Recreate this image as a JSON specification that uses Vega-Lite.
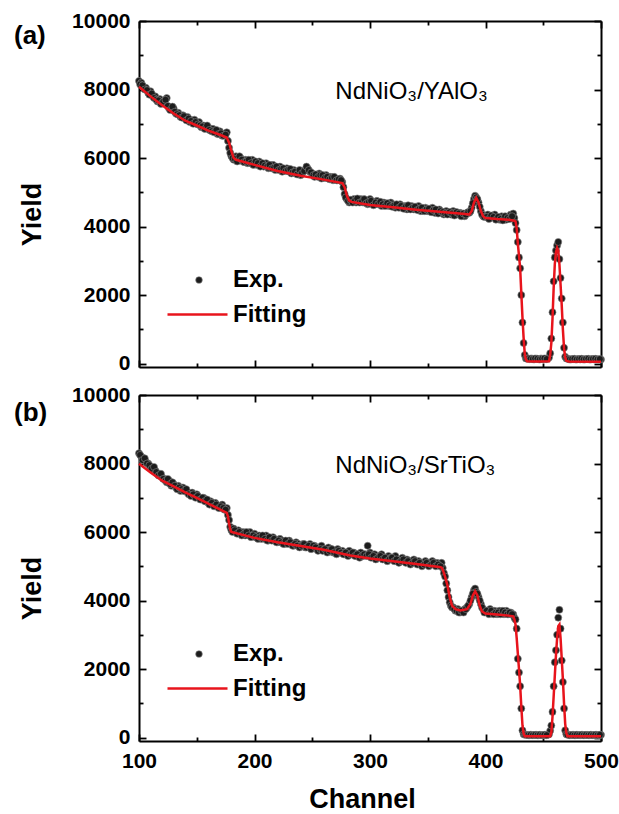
{
  "$schema": "https://vega.github.io/schema/vega-lite/v6.json",
  "padding": {"left": 14, "top": 10, "right": 5, "bottom": 0},
  "background": "white",
  "spacing": 28,
  "bounds": "flush",
  "resolve": {"scale": {"fill": "independent", "stroke": "independent"}, "legend": {"fill": "independent", "stroke": "independent"}},
  "config": {
    "view": {"stroke": null},
    "font": "Liberation Sans",
    "axis": {"domainColor": "black", "domainWidth": 2, "tickColor": "black", "tickWidth": 1.8, "grid": false, "labelFont": "Liberation Sans", "labelFontSize": 21, "labelFontWeight": "bold", "labelColor": "black", "labelFlush": false, "titleFont": "Liberation Sans", "titleFontSize": 27, "titleFontWeight": "bold", "titleColor": "black"},
    "legend": {"orient": "none", "title": null, "labelFont": "Liberation Sans", "labelFontSize": 24, "labelFontWeight": "bold", "labelColor": "black", "padding": 0}
  },
  "datasets": {
    "pa": [{"c":100,"y":8250},{"c":102,"y":8200},{"c":104,"y":8080},{"c":106,"y":8050},{"c":108,"y":7900},{"c":110,"y":7950},{"c":112,"y":7800},{"c":114,"y":7800},{"c":116,"y":7650},{"c":118,"y":7720},{"c":120,"y":7600},{"c":122,"y":7620},{"c":124,"y":7750},{"c":126,"y":7450},{"c":128,"y":7420},{"c":130,"y":7450},{"c":132,"y":7300},{"c":134,"y":7320},{"c":136,"y":7200},{"c":138,"y":7250},{"c":140,"y":7150},{"c":142,"y":7200},{"c":144,"y":7050},{"c":146,"y":7100},{"c":148,"y":7120},{"c":150,"y":7000},{"c":152,"y":7050},{"c":154,"y":6900},{"c":156,"y":6950},{"c":158,"y":6880},{"c":160,"y":6900},{"c":162,"y":6800},{"c":164,"y":6850},{"c":166,"y":6780},{"c":168,"y":6700},{"c":170,"y":6780},{"c":172,"y":6650},{"c":174,"y":6700},{"c":176,"y":6750},{"c":177,"y":6500},{"c":178,"y":6300},{"c":180,"y":6050},{"c":182,"y":5950},{"c":184,"y":6050},{"c":186,"y":5950},{"c":188,"y":6000},{"c":190,"y":5900},{"c":192,"y":5950},{"c":194,"y":5850},{"c":196,"y":5900},{"c":198,"y":5950},{"c":200,"y":5850},{"c":202,"y":5800},{"c":204,"y":5900},{"c":206,"y":5800},{"c":208,"y":5750},{"c":210,"y":5850},{"c":212,"y":5700},{"c":214,"y":5750},{"c":216,"y":5800},{"c":218,"y":5650},{"c":220,"y":5700},{"c":222,"y":5750},{"c":224,"y":5600},{"c":226,"y":5650},{"c":228,"y":5700},{"c":230,"y":5600},{"c":232,"y":5550},{"c":234,"y":5650},{"c":236,"y":5550},{"c":238,"y":5600},{"c":240,"y":5500},{"c":242,"y":5600},{"c":244,"y":5650},{"c":246,"y":5700},{"c":248,"y":5600},{"c":250,"y":5550},{"c":252,"y":5450},{"c":254,"y":5500},{"c":256,"y":5550},{"c":258,"y":5400},{"c":260,"y":5450},{"c":262,"y":5500},{"c":264,"y":5400},{"c":266,"y":5450},{"c":268,"y":5350},{"c":270,"y":5400},{"c":272,"y":5350},{"c":274,"y":5400},{"c":276,"y":5300},{"c":277,"y":5150},{"c":278,"y":4950},{"c":280,"y":4800},{"c":282,"y":4700},{"c":284,"y":4750},{"c":286,"y":4800},{"c":288,"y":4700},{"c":290,"y":4750},{"c":292,"y":4800},{"c":294,"y":4700},{"c":296,"y":4750},{"c":298,"y":4650},{"c":300,"y":4800},{"c":302,"y":4700},{"c":304,"y":4650},{"c":306,"y":4750},{"c":308,"y":4700},{"c":310,"y":4600},{"c":312,"y":4700},{"c":314,"y":4650},{"c":316,"y":4600},{"c":318,"y":4700},{"c":320,"y":4650},{"c":322,"y":4550},{"c":324,"y":4600},{"c":326,"y":4650},{"c":328,"y":4550},{"c":330,"y":4600},{"c":332,"y":4500},{"c":334,"y":4550},{"c":336,"y":4600},{"c":338,"y":4500},{"c":340,"y":4550},{"c":342,"y":4600},{"c":344,"y":4450},{"c":346,"y":4500},{"c":348,"y":4550},{"c":350,"y":4450},{"c":352,"y":4500},{"c":354,"y":4550},{"c":356,"y":4400},{"c":358,"y":4450},{"c":360,"y":4500},{"c":362,"y":4400},{"c":364,"y":4350},{"c":366,"y":4450},{"c":368,"y":4400},{"c":370,"y":4350},{"c":372,"y":4450},{"c":374,"y":4400},{"c":376,"y":4350},{"c":378,"y":4400},{"c":380,"y":4350},{"c":382,"y":4300},{"c":384,"y":4400},{"c":386,"y":4400},{"c":388,"y":4550},{"c":390,"y":4800},{"c":391,"y":4900},{"c":392,"y":4850},{"c":394,"y":4700},{"c":396,"y":4450},{"c":398,"y":4300},{"c":400,"y":4300},{"c":402,"y":4350},{"c":404,"y":4250},{"c":406,"y":4300},{"c":408,"y":4350},{"c":410,"y":4250},{"c":412,"y":4200},{"c":414,"y":4300},{"c":416,"y":4250},{"c":418,"y":4200},{"c":420,"y":4300},{"c":422,"y":4350},{"c":424,"y":4380},{"c":425,"y":4250},{"c":426,"y":4100},{"c":427,"y":3900},{"c":428,"y":3550},{"c":429,"y":3100},{"c":430,"y":2780},{"c":431,"y":2000},{"c":432,"y":1200},{"c":433,"y":600},{"c":434,"y":250},{"c":435,"y":150},{"c":436,"y":140},{"c":438,"y":130},{"c":440,"y":150},{"c":442,"y":120},{"c":444,"y":140},{"c":446,"y":130},{"c":448,"y":150},{"c":450,"y":130},{"c":452,"y":140},{"c":454,"y":150},{"c":455,"y":180},{"c":456,"y":300},{"c":457,"y":730},{"c":458,"y":1500},{"c":459,"y":2400},{"c":460,"y":3100},{"c":461,"y":3300},{"c":462,"y":3450},{"c":463,"y":3550},{"c":464,"y":3050},{"c":465,"y":2500},{"c":466,"y":1900},{"c":467,"y":1200},{"c":468,"y":460},{"c":469,"y":200},{"c":470,"y":150},{"c":472,"y":130},{"c":474,"y":120},{"c":476,"y":130},{"c":478,"y":120},{"c":480,"y":130},{"c":482,"y":120},{"c":484,"y":130},{"c":486,"y":120},{"c":488,"y":130},{"c":490,"y":120},{"c":492,"y":130},{"c":494,"y":120},{"c":496,"y":130},{"c":498,"y":120},{"c":500,"y":120},
      {"c":101,"y":8150},{"c":103,"y":8120},{"c":105,"y":8000},{"c":107,"y":7980},{"c":109,"y":7850},{"c":111,"y":7880},{"c":113,"y":7750},{"c":115,"y":7700},{"c":117,"y":7680},{"c":119,"y":7580},{"c":121,"y":7650},{"c":123,"y":7700},{"c":125,"y":7520},{"c":127,"y":7400},{"c":129,"y":7500},{"c":131,"y":7350},{"c":133,"y":7280},{"c":135,"y":7250},{"c":137,"y":7180},{"c":139,"y":7220},{"c":141,"y":7100},{"c":143,"y":7150},{"c":145,"y":7080},{"c":147,"y":7000},{"c":149,"y":7050},{"c":151,"y":6980},{"c":153,"y":6950},{"c":155,"y":6920},{"c":157,"y":6850},{"c":159,"y":6950},{"c":161,"y":6820},{"c":163,"y":6780},{"c":165,"y":6750},{"c":167,"y":6820},{"c":169,"y":6700},{"c":171,"y":6720},{"c":173,"y":6650},{"c":175,"y":6680},{"c":179,"y":6150},{"c":181,"y":6000},{"c":183,"y":5980},{"c":185,"y":5900},{"c":187,"y":6050},{"c":189,"y":5950},{"c":191,"y":5880},{"c":193,"y":5900},{"c":195,"y":5950},{"c":197,"y":5850},{"c":199,"y":5800},{"c":201,"y":5900},{"c":203,"y":5850},{"c":205,"y":5750},{"c":207,"y":5850},{"c":209,"y":5780},{"c":211,"y":5750},{"c":213,"y":5800},{"c":215,"y":5700},{"c":217,"y":5720},{"c":219,"y":5750},{"c":221,"y":5650},{"c":223,"y":5680},{"c":225,"y":5700},{"c":227,"y":5620},{"c":229,"y":5650},{"c":231,"y":5680},{"c":233,"y":5580},{"c":235,"y":5600},{"c":237,"y":5520},{"c":239,"y":5650},{"c":241,"y":5550},{"c":243,"y":5620},{"c":245,"y":5750},{"c":247,"y":5650},{"c":249,"y":5580},{"c":251,"y":5500},{"c":253,"y":5520},{"c":255,"y":5450},{"c":257,"y":5500},{"c":259,"y":5500},{"c":261,"y":5420},{"c":263,"y":5450},{"c":265,"y":5380},{"c":267,"y":5420},{"c":269,"y":5450},{"c":271,"y":5350},{"c":273,"y":5380},{"c":275,"y":5350},{"c":279,"y":4850},{"c":281,"y":4750},{"c":283,"y":4780},{"c":285,"y":4700},{"c":287,"y":4750},{"c":289,"y":4820},{"c":291,"y":4700},{"c":293,"y":4720},{"c":295,"y":4800},{"c":297,"y":4680},{"c":299,"y":4720},{"c":301,"y":4750},{"c":303,"y":4620},{"c":305,"y":4700},{"c":307,"y":4650},{"c":309,"y":4720},{"c":311,"y":4650},{"c":313,"y":4600},{"c":315,"y":4680},{"c":317,"y":4620},{"c":319,"y":4580},{"c":321,"y":4620},{"c":323,"y":4650},{"c":325,"y":4550},{"c":327,"y":4600},{"c":329,"y":4520},{"c":331,"y":4580},{"c":333,"y":4620},{"c":335,"y":4500},{"c":337,"y":4550},{"c":339,"y":4580},{"c":341,"y":4480},{"c":343,"y":4520},{"c":345,"y":4550},{"c":347,"y":4450},{"c":349,"y":4500},{"c":351,"y":4520},{"c":353,"y":4420},{"c":355,"y":4480},{"c":357,"y":4500},{"c":359,"y":4380},{"c":361,"y":4450},{"c":363,"y":4420},{"c":365,"y":4380},{"c":367,"y":4350},{"c":369,"y":4420},{"c":371,"y":4380},{"c":373,"y":4320},{"c":375,"y":4420},{"c":377,"y":4380},{"c":379,"y":4300},{"c":381,"y":4380},{"c":383,"y":4350},{"c":385,"y":4420},{"c":387,"y":4450},{"c":389,"y":4680},{"c":393,"y":4800},{"c":395,"y":4580},{"c":397,"y":4350},{"c":399,"y":4280},{"c":401,"y":4280},{"c":403,"y":4220},{"c":405,"y":4320},{"c":407,"y":4280},{"c":409,"y":4200},{"c":411,"y":4280},{"c":413,"y":4220},{"c":415,"y":4180},{"c":417,"y":4300},{"c":419,"y":4250},{"c":421,"y":4220},{"c":423,"y":4300},{"c":437,"y":150},{"c":439,"y":140},{"c":441,"y":130},{"c":443,"y":150},{"c":445,"y":140},{"c":447,"y":120},{"c":449,"y":140},{"c":451,"y":150},{"c":453,"y":130},{"c":471,"y":140},{"c":473,"y":120},{"c":475,"y":130},{"c":477,"y":140},{"c":479,"y":120},{"c":481,"y":130},{"c":483,"y":140},{"c":485,"y":120},{"c":487,"y":130},{"c":489,"y":140},{"c":491,"y":120},{"c":493,"y":130},{"c":495,"y":140},{"c":497,"y":120},{"c":499,"y":130}],
    "fa": [{"c":100,"y":8080},{"c":110,"y":7800},{"c":120,"y":7540},{"c":130,"y":7300},{"c":140,"y":7090},{"c":150,"y":6950},{"c":160,"y":6800},{"c":170,"y":6680},{"c":176,"y":6600},{"c":178,"y":6450},{"c":180,"y":6200},{"c":182,"y":6000},{"c":184,"y":5950},{"c":200,"y":5800},{"c":220,"y":5620},{"c":240,"y":5480},{"c":260,"y":5370},{"c":276,"y":5270},{"c":278,"y":5150},{"c":280,"y":4900},{"c":282,"y":4760},{"c":284,"y":4720},{"c":300,"y":4630},{"c":320,"y":4560},{"c":340,"y":4490},{"c":360,"y":4430},{"c":380,"y":4370},{"c":386,"y":4350},{"c":388,"y":4450},{"c":390,"y":4700},{"c":392,"y":4840},{"c":394,"y":4700},{"c":396,"y":4450},{"c":398,"y":4300},{"c":400,"y":4250},{"c":410,"y":4220},{"c":420,"y":4200},{"c":425,"y":4170},{"c":426,"y":4150},{"c":427,"y":3950},{"c":428,"y":3500},{"c":429,"y":3150},{"c":430,"y":2790},{"c":431,"y":2050},{"c":432,"y":1350},{"c":433,"y":750},{"c":434,"y":280},{"c":435,"y":120},{"c":436,"y":70},{"c":445,"y":60},{"c":455,"y":70},{"c":456,"y":250},{"c":457,"y":600},{"c":458,"y":1300},{"c":459,"y":2200},{"c":460,"y":2900},{"c":461,"y":3250},{"c":462,"y":3380},{"c":463,"y":3300},{"c":464,"y":2900},{"c":465,"y":2300},{"c":466,"y":1700},{"c":467,"y":1000},{"c":468,"y":450},{"c":469,"y":180},{"c":470,"y":80},{"c":472,"y":60},{"c":500,"y":50}],
    "pb": [{"c":100,"y":8300},{"c":102,"y":8200},{"c":104,"y":8150},{"c":106,"y":8050},{"c":108,"y":8000},{"c":110,"y":7900},{"c":112,"y":7850},{"c":114,"y":7800},{"c":116,"y":7700},{"c":118,"y":7650},{"c":120,"y":7600},{"c":122,"y":7550},{"c":124,"y":7450},{"c":126,"y":7500},{"c":128,"y":7350},{"c":130,"y":7400},{"c":132,"y":7300},{"c":134,"y":7350},{"c":136,"y":7200},{"c":138,"y":7300},{"c":140,"y":7200},{"c":142,"y":7150},{"c":144,"y":7100},{"c":146,"y":7150},{"c":148,"y":7050},{"c":150,"y":7100},{"c":152,"y":7000},{"c":154,"y":6950},{"c":156,"y":7000},{"c":158,"y":6900},{"c":160,"y":6850},{"c":162,"y":6900},{"c":164,"y":6800},{"c":166,"y":6850},{"c":168,"y":6750},{"c":170,"y":6700},{"c":172,"y":6800},{"c":174,"y":6650},{"c":176,"y":6700},{"c":177,"y":6500},{"c":178,"y":6350},{"c":179,"y":6150},{"c":180,"y":6050},{"c":182,"y":6100},{"c":184,"y":6000},{"c":186,"y":6050},{"c":188,"y":5950},{"c":190,"y":6000},{"c":192,"y":5900},{"c":194,"y":5950},{"c":196,"y":6000},{"c":198,"y":5900},{"c":200,"y":5950},{"c":202,"y":5850},{"c":204,"y":5900},{"c":206,"y":5800},{"c":208,"y":5850},{"c":210,"y":5900},{"c":212,"y":5750},{"c":214,"y":5800},{"c":216,"y":5850},{"c":218,"y":5750},{"c":220,"y":5700},{"c":222,"y":5800},{"c":224,"y":5750},{"c":226,"y":5650},{"c":228,"y":5700},{"c":230,"y":5750},{"c":232,"y":5650},{"c":234,"y":5600},{"c":236,"y":5700},{"c":238,"y":5650},{"c":240,"y":5600},{"c":242,"y":5650},{"c":244,"y":5550},{"c":246,"y":5600},{"c":248,"y":5650},{"c":250,"y":5550},{"c":252,"y":5600},{"c":254,"y":5500},{"c":256,"y":5550},{"c":258,"y":5600},{"c":260,"y":5500},{"c":262,"y":5450},{"c":264,"y":5550},{"c":266,"y":5500},{"c":268,"y":5400},{"c":270,"y":5450},{"c":272,"y":5500},{"c":274,"y":5400},{"c":276,"y":5450},{"c":278,"y":5350},{"c":280,"y":5400},{"c":282,"y":5450},{"c":284,"y":5350},{"c":286,"y":5400},{"c":288,"y":5300},{"c":290,"y":5350},{"c":292,"y":5400},{"c":294,"y":5300},{"c":296,"y":5350},{"c":298,"y":5600},{"c":300,"y":5400},{"c":302,"y":5300},{"c":304,"y":5350},{"c":306,"y":5250},{"c":308,"y":5300},{"c":310,"y":5350},{"c":312,"y":5250},{"c":314,"y":5200},{"c":316,"y":5300},{"c":318,"y":5250},{"c":320,"y":5200},{"c":322,"y":5300},{"c":324,"y":5150},{"c":326,"y":5200},{"c":328,"y":5250},{"c":330,"y":5150},{"c":332,"y":5200},{"c":334,"y":5100},{"c":336,"y":5150},{"c":338,"y":5200},{"c":340,"y":5100},{"c":342,"y":5150},{"c":344,"y":5050},{"c":346,"y":5100},{"c":348,"y":5150},{"c":350,"y":5050},{"c":352,"y":5100},{"c":354,"y":5150},{"c":356,"y":5050},{"c":358,"y":5100},{"c":360,"y":5050},{"c":362,"y":5100},{"c":363,"y":4950},{"c":364,"y":4800},{"c":365,"y":4700},{"c":366,"y":4500},{"c":367,"y":4300},{"c":368,"y":4100},{"c":369,"y":3950},{"c":370,"y":3850},{"c":372,"y":3800},{"c":374,"y":3700},{"c":376,"y":3750},{"c":378,"y":3650},{"c":380,"y":3700},{"c":382,"y":3750},{"c":384,"y":3800},{"c":386,"y":3900},{"c":388,"y":4100},{"c":390,"y":4300},{"c":391,"y":4350},{"c":392,"y":4250},{"c":394,"y":4100},{"c":396,"y":3900},{"c":398,"y":3750},{"c":400,"y":3700},{"c":402,"y":3650},{"c":404,"y":3750},{"c":406,"y":3650},{"c":408,"y":3700},{"c":410,"y":3600},{"c":412,"y":3700},{"c":414,"y":3650},{"c":416,"y":3600},{"c":418,"y":3700},{"c":420,"y":3600},{"c":422,"y":3650},{"c":424,"y":3600},{"c":425,"y":3500},{"c":426,"y":3450},{"c":427,"y":3180},{"c":428,"y":2300},{"c":429,"y":1900},{"c":430,"y":1500},{"c":431,"y":850},{"c":432,"y":210},{"c":433,"y":100},{"c":434,"y":80},{"c":436,"y":80},{"c":438,"y":70},{"c":440,"y":80},{"c":442,"y":70},{"c":444,"y":80},{"c":446,"y":70},{"c":448,"y":80},{"c":450,"y":70},{"c":452,"y":80},{"c":454,"y":80},{"c":455,"y":100},{"c":456,"y":200},{"c":457,"y":350},{"c":458,"y":750},{"c":459,"y":1500},{"c":460,"y":2200},{"c":461,"y":2550},{"c":462,"y":3000},{"c":463,"y":3500},{"c":464,"y":3730},{"c":465,"y":3180},{"c":466,"y":2250},{"c":467,"y":1620},{"c":468,"y":850},{"c":469,"y":210},{"c":470,"y":100},{"c":472,"y":80},{"c":474,"y":70},{"c":476,"y":80},{"c":478,"y":70},{"c":480,"y":80},{"c":482,"y":70},{"c":484,"y":80},{"c":486,"y":70},{"c":488,"y":80},{"c":490,"y":70},{"c":492,"y":80},{"c":494,"y":70},{"c":496,"y":80},{"c":498,"y":70},{"c":500,"y":80},
      {"c":101,"y":8250},{"c":103,"y":8100},{"c":105,"y":8150},{"c":107,"y":8000},{"c":109,"y":7950},{"c":111,"y":7850},{"c":113,"y":7900},{"c":115,"y":7750},{"c":117,"y":7650},{"c":119,"y":7700},{"c":121,"y":7550},{"c":123,"y":7500},{"c":125,"y":7550},{"c":127,"y":7400},{"c":129,"y":7450},{"c":131,"y":7350},{"c":133,"y":7250},{"c":135,"y":7300},{"c":137,"y":7250},{"c":139,"y":7200},{"c":141,"y":7250},{"c":143,"y":7100},{"c":145,"y":7050},{"c":147,"y":7100},{"c":149,"y":7000},{"c":151,"y":7050},{"c":153,"y":6950},{"c":155,"y":7000},{"c":157,"y":6900},{"c":159,"y":6950},{"c":161,"y":6800},{"c":163,"y":6850},{"c":165,"y":6750},{"c":167,"y":6800},{"c":169,"y":6700},{"c":171,"y":6750},{"c":173,"y":6700},{"c":175,"y":6650},{"c":181,"y":6000},{"c":183,"y":6050},{"c":185,"y":5950},{"c":187,"y":6000},{"c":189,"y":5900},{"c":191,"y":5950},{"c":193,"y":6000},{"c":195,"y":5900},{"c":197,"y":5850},{"c":199,"y":5900},{"c":201,"y":5850},{"c":203,"y":5800},{"c":205,"y":5850},{"c":207,"y":5900},{"c":209,"y":5800},{"c":211,"y":5750},{"c":213,"y":5850},{"c":215,"y":5750},{"c":217,"y":5800},{"c":219,"y":5700},{"c":221,"y":5750},{"c":223,"y":5700},{"c":225,"y":5650},{"c":227,"y":5750},{"c":229,"y":5650},{"c":231,"y":5700},{"c":233,"y":5600},{"c":235,"y":5650},{"c":237,"y":5600},{"c":239,"y":5550},{"c":241,"y":5600},{"c":243,"y":5650},{"c":245,"y":5550},{"c":247,"y":5600},{"c":249,"y":5500},{"c":251,"y":5600},{"c":253,"y":5550},{"c":255,"y":5450},{"c":257,"y":5500},{"c":259,"y":5450},{"c":261,"y":5500},{"c":263,"y":5400},{"c":265,"y":5450},{"c":267,"y":5500},{"c":269,"y":5400},{"c":271,"y":5350},{"c":273,"y":5450},{"c":275,"y":5400},{"c":277,"y":5350},{"c":279,"y":5400},{"c":281,"y":5300},{"c":283,"y":5350},{"c":285,"y":5400},{"c":287,"y":5300},{"c":289,"y":5350},{"c":291,"y":5250},{"c":293,"y":5300},{"c":295,"y":5350},{"c":297,"y":5300},{"c":299,"y":5350},{"c":301,"y":5250},{"c":303,"y":5300},{"c":305,"y":5200},{"c":307,"y":5250},{"c":309,"y":5300},{"c":311,"y":5200},{"c":313,"y":5250},{"c":315,"y":5150},{"c":317,"y":5200},{"c":319,"y":5250},{"c":321,"y":5150},{"c":323,"y":5200},{"c":325,"y":5100},{"c":327,"y":5150},{"c":329,"y":5200},{"c":331,"y":5100},{"c":333,"y":5150},{"c":335,"y":5050},{"c":337,"y":5100},{"c":339,"y":5150},{"c":341,"y":5050},{"c":343,"y":5100},{"c":345,"y":5000},{"c":347,"y":5050},{"c":349,"y":5100},{"c":351,"y":5000},{"c":353,"y":5050},{"c":355,"y":5100},{"c":357,"y":5000},{"c":359,"y":5050},{"c":361,"y":5000},{"c":371,"y":3800},{"c":373,"y":3750},{"c":375,"y":3700},{"c":377,"y":3650},{"c":379,"y":3700},{"c":381,"y":3650},{"c":383,"y":3750},{"c":385,"y":3850},{"c":387,"y":4000},{"c":389,"y":4200},{"c":393,"y":4200},{"c":395,"y":4000},{"c":397,"y":3800},{"c":399,"y":3650},{"c":401,"y":3700},{"c":403,"y":3600},{"c":405,"y":3700},{"c":407,"y":3600},{"c":409,"y":3650},{"c":411,"y":3650},{"c":413,"y":3600},{"c":415,"y":3700},{"c":417,"y":3650},{"c":419,"y":3600},{"c":421,"y":3650},{"c":423,"y":3600},{"c":435,"y":80},{"c":437,"y":70},{"c":439,"y":80},{"c":441,"y":70},{"c":443,"y":80},{"c":445,"y":70},{"c":447,"y":80},{"c":449,"y":70},{"c":451,"y":80},{"c":453,"y":70},{"c":471,"y":80},{"c":473,"y":70},{"c":475,"y":80},{"c":477,"y":70},{"c":479,"y":80},{"c":481,"y":70},{"c":483,"y":80},{"c":485,"y":70},{"c":487,"y":80},{"c":489,"y":70},{"c":491,"y":80},{"c":493,"y":70},{"c":495,"y":80},{"c":497,"y":70},{"c":499,"y":80}],
    "fb": [{"c":100,"y":7990},{"c":110,"y":7740},{"c":120,"y":7500},{"c":130,"y":7330},{"c":140,"y":7160},{"c":150,"y":7000},{"c":160,"y":6830},{"c":170,"y":6660},{"c":176,"y":6560},{"c":177,"y":6450},{"c":178,"y":6250},{"c":179,"y":6080},{"c":180,"y":6000},{"c":200,"y":5830},{"c":220,"y":5700},{"c":240,"y":5590},{"c":260,"y":5480},{"c":283,"y":5316},{"c":300,"y":5230},{"c":320,"y":5150},{"c":340,"y":5070},{"c":360,"y":4980},{"c":362,"y":4960},{"c":363,"y":4900},{"c":365,"y":4700},{"c":367,"y":4450},{"c":369,"y":4100},{"c":371,"y":3850},{"c":374,"y":3750},{"c":378,"y":3711},{"c":384,"y":3750},{"c":387,"y":3900},{"c":389,"y":4150},{"c":391,"y":4270},{"c":393,"y":4150},{"c":395,"y":3850},{"c":397,"y":3680},{"c":400,"y":3620},{"c":410,"y":3590},{"c":420,"y":3560},{"c":424,"y":3540},{"c":425,"y":3450},{"c":426,"y":3300},{"c":427,"y":2900},{"c":428,"y":2450},{"c":429,"y":2000},{"c":430,"y":1525},{"c":431,"y":900},{"c":432,"y":360},{"c":433,"y":120},{"c":434,"y":40},{"c":456,"y":40},{"c":457,"y":150},{"c":458,"y":600},{"c":459,"y":1200},{"c":460,"y":1800},{"c":461,"y":2400},{"c":462,"y":2900},{"c":463,"y":3250},{"c":464,"y":3300},{"c":465,"y":2900},{"c":466,"y":2300},{"c":467,"y":1700},{"c":468,"y":1000},{"c":469,"y":400},{"c":470,"y":120},{"c":471,"y":40},{"c":500,"y":40}]
  },
  "vconcat": [
    {
      "width": 462, "height": 346,
      "title": {"text": "(a)", "anchor": "start", "frame": "group", "orient": "top", "offset": 0, "dx": -125, "dy": 52, "baseline": "middle", "fontSize": 26, "fontWeight": "bold", "font": "Liberation Sans", "color": "black"},
      "resolve": {"axis": {"x": "independent", "y": "independent"}},
      "layer": [
        {
          "data": {"name": "pa"},
          "mark": {"type": "point", "filled": true, "size": 50, "opacity": 1, "stroke": "#8a8a8a", "strokeWidth": 0.6},
          "encoding": {
            "x": {"field": "c", "type": "quantitative", "scale": {"domain": [100, 500], "nice": false, "zero": false}, "axis": {"orient": "bottom", "values": [100, 200, 300, 400, 500], "tickSize": -7, "labels": false, "title": null}},
            "y": {"field": "y", "type": "quantitative", "scale": {"domain": [-100, 10000], "nice": false, "zero": false}, "axis": {"orient": "left", "values": [0, 2000, 4000, 6000, 8000, 10000], "format": "d", "tickSize": -7, "labelPadding": 16, "title": "Yield", "titleX": -107, "titleY": 193, "titleAngle": 270, "titleAlign": "center", "titleBaseline": "middle"}},
            "fill": {"datum": "Exp.", "scale": {"domain": ["Exp."], "range": ["#1c1c1c"]},
              "legend": {"legendX": 48, "legendY": 247, "symbolType": "circle", "symbolSize": 45, "symbolFillColor": "#1c1c1c", "symbolStrokeColor": "#8a8a8a", "symbolStrokeWidth": 0.6, "symbolOpacity": 1, "labelOffset": 22}}
          }
        },
        {
          "data": {"name": "fa"},
          "mark": {"type": "line", "strokeWidth": 2.5},
          "encoding": {
            "x": {"field": "c", "type": "quantitative", "axis": {"orient": "top", "values": [100, 200, 300, 400, 500], "tickSize": -7, "labels": false, "title": null}},
            "y": {"field": "y", "type": "quantitative", "axis": {"orient": "right", "values": [0, 2000, 4000, 6000, 8000, 10000], "tickSize": -7, "labels": false, "title": null}},
            "stroke": {"datum": "Fitting", "scale": {"domain": ["Fitting"], "range": ["#e8141c"]},
              "legend": {"legendX": 27, "legendY": 262, "symbolType": "stroke", "symbolSize": 3600, "symbolStrokeWidth": 2.5, "labelOffset": 4}}
          }
        },
        {
          "data": {"name": "fa"},
          "mark": {"type": "line", "opacity": 0},
          "encoding": {
            "x": {"field": "c", "type": "quantitative", "axis": {"orient": "bottom", "values": [150, 250, 350, 450], "tickSize": -4, "labels": false, "domain": false, "title": null}},
            "y": {"field": "y", "type": "quantitative", "axis": {"orient": "left", "values": [1000, 3000, 5000, 7000, 9000], "tickSize": -4, "labels": false, "domain": false, "title": null}}
          }
        },
        {
          "data": {"name": "fa"},
          "mark": {"type": "line", "opacity": 0},
          "encoding": {
            "x": {"field": "c", "type": "quantitative", "axis": {"orient": "top", "values": [150, 250, 350, 450], "tickSize": -4, "labels": false, "domain": false, "title": null}},
            "y": {"field": "y", "type": "quantitative", "axis": {"orient": "right", "values": [1000, 3000, 5000, 7000, 9000], "tickSize": -4, "labels": false, "domain": false, "title": null}}
          }
        },
        {
          "data": {"values": [{}]},
          "mark": {"type": "text", "text": "NdNiO₃/YAlO₃", "align": "left", "baseline": "alphabetic", "fontSize": 24, "font": "Liberation Sans", "color": "black"},
          "encoding": {
            "x": {"datum": 270, "type": "quantitative", "axis": null},
            "y": {"datum": 7726, "type": "quantitative", "axis": null}
          }
        }
      ]
    },
    {
      "width": 462, "height": 346,
      "title": {"text": "(b)", "anchor": "start", "frame": "group", "orient": "top", "offset": 0, "dx": -125, "dy": 55, "baseline": "middle", "fontSize": 26, "fontWeight": "bold", "font": "Liberation Sans", "color": "black"},
      "resolve": {"axis": {"x": "independent", "y": "independent"}},
      "layer": [
        {
          "data": {"name": "pb"},
          "mark": {"type": "point", "filled": true, "size": 50, "opacity": 1, "stroke": "#8a8a8a", "strokeWidth": 0.6},
          "encoding": {
            "x": {"field": "c", "type": "quantitative", "scale": {"domain": [100, 500], "nice": false, "zero": false}, "axis": {"orient": "bottom", "values": [100, 200, 300, 400, 500], "tickSize": -7, "labelPadding": 16, "title": "Channel", "titleX": 223, "titleY": 66, "titleBaseline": "alphabetic", "titleAlign": "center"}},
            "y": {"field": "y", "type": "quantitative", "scale": {"domain": [-100, 10000], "nice": false, "zero": false}, "axis": {"orient": "left", "values": [0, 2000, 4000, 6000, 8000, 10000], "format": "d", "tickSize": -7, "labelPadding": 16, "title": "Yield", "titleX": -107, "titleY": 193, "titleAngle": 270, "titleAlign": "center", "titleBaseline": "middle"}},
            "fill": {"datum": "Exp.", "scale": {"domain": ["Exp."], "range": ["#1c1c1c"]},
              "legend": {"legendX": 48, "legendY": 247, "symbolType": "circle", "symbolSize": 45, "symbolFillColor": "#1c1c1c", "symbolStrokeColor": "#8a8a8a", "symbolStrokeWidth": 0.6, "symbolOpacity": 1, "labelOffset": 22}}
          }
        },
        {
          "data": {"name": "fb"},
          "mark": {"type": "line", "strokeWidth": 2.5},
          "encoding": {
            "x": {"field": "c", "type": "quantitative", "axis": {"orient": "top", "values": [100, 200, 300, 400, 500], "tickSize": -7, "labels": false, "title": null}},
            "y": {"field": "y", "type": "quantitative", "axis": {"orient": "right", "values": [0, 2000, 4000, 6000, 8000, 10000], "tickSize": -7, "labels": false, "title": null}},
            "stroke": {"datum": "Fitting", "scale": {"domain": ["Fitting"], "range": ["#e8141c"]},
              "legend": {"legendX": 27, "legendY": 262, "symbolType": "stroke", "symbolSize": 3600, "symbolStrokeWidth": 2.5, "labelOffset": 4}}
          }
        },
        {
          "data": {"name": "fb"},
          "mark": {"type": "line", "opacity": 0},
          "encoding": {
            "x": {"field": "c", "type": "quantitative", "axis": {"orient": "bottom", "values": [150, 250, 350, 450], "tickSize": -4, "labels": false, "domain": false, "title": null}},
            "y": {"field": "y", "type": "quantitative", "axis": {"orient": "left", "values": [1000, 3000, 5000, 7000, 9000], "tickSize": -4, "labels": false, "domain": false, "title": null}}
          }
        },
        {
          "data": {"name": "fb"},
          "mark": {"type": "line", "opacity": 0},
          "encoding": {
            "x": {"field": "c", "type": "quantitative", "axis": {"orient": "top", "values": [150, 250, 350, 450], "tickSize": -4, "labels": false, "domain": false, "title": null}},
            "y": {"field": "y", "type": "quantitative", "axis": {"orient": "right", "values": [1000, 3000, 5000, 7000, 9000], "tickSize": -4, "labels": false, "domain": false, "title": null}}
          }
        },
        {
          "data": {"values": [{}]},
          "mark": {"type": "text", "text": "NdNiO₃/SrTiO₃", "align": "left", "baseline": "alphabetic", "fontSize": 24, "font": "Liberation Sans", "color": "black"},
          "encoding": {
            "x": {"datum": 270, "type": "quantitative", "axis": null},
            "y": {"datum": 7726, "type": "quantitative", "axis": null}
          }
        }
      ]
    }
  ]
}
